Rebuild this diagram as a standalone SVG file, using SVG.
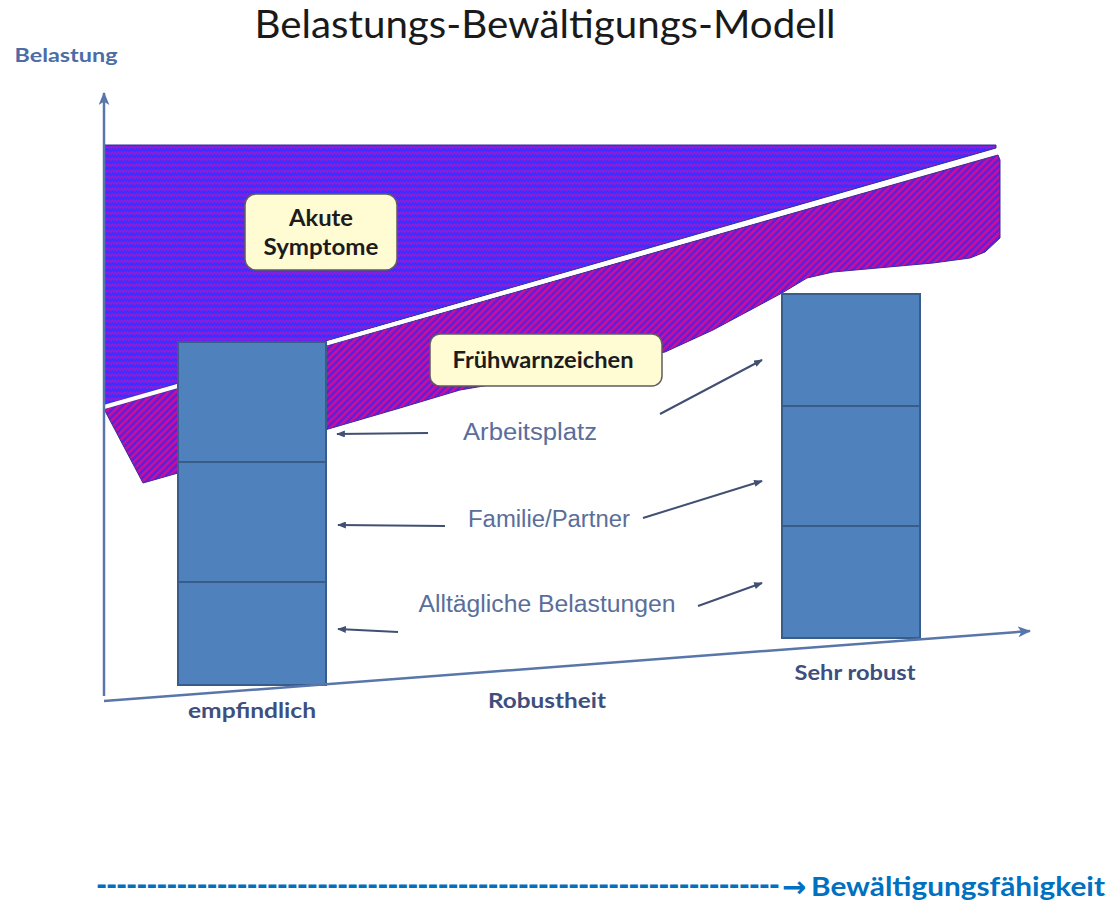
<svg xmlns="http://www.w3.org/2000/svg" width="1111" height="902" viewBox="0 0 1111 902">
  <defs>
    <!-- zigzag fill for the upper band -->
    <pattern id="zigzag" width="6" height="6" patternUnits="userSpaceOnUse">
      <rect width="6" height="6" fill="#3A30FF"/>
      <polyline points="0,4.5 1.5,2 3,4.5 4.5,2 6,4.5" fill="none" stroke="#A416CC" stroke-width="1.3"/>
    </pattern>
    <!-- diagonal stripes for the lower band -->
    <pattern id="stripes" width="5" height="5" patternUnits="userSpaceOnUse" patternTransform="rotate(45)">
      <rect width="5" height="5" fill="#5A1FDC"/>
      <rect width="2.6" height="5" fill="#CC0E98"/>
    </pattern>
    <marker id="tip" viewBox="0 0 10 8" refX="9" refY="4" markerWidth="9" markerHeight="7" markerUnits="userSpaceOnUse" orient="auto">
      <path d="M0,0 L10,4 L0,8 z" fill="#414F72"/>
    </marker>
    <marker id="axisTip" viewBox="0 0 12 10" refX="11" refY="5" markerWidth="13" markerHeight="11" markerUnits="userSpaceOnUse" orient="auto">
      <path d="M0,0 L12,5 L0,10 L3,5 z" fill="#5876AA"/>
    </marker>
    <style>
      .stack { fill: #4F81BD; stroke: #385D8A; stroke-width: 2; }
      .note { fill: #FFFBD2; stroke: #5E5E5E; stroke-width: 1.5; }
      .noteText { font-family: Lato, "Liberation Sans", sans-serif; font-weight: bold; font-size: 23px; fill: #1C1C1C; text-anchor: middle; }
      .mid { font-family: "Liberation Sans", Arial, sans-serif; font-size: 23px; fill: #5A6E9A; text-anchor: middle; }
      .axisLbl { font-family: Lato, "Liberation Sans", sans-serif; font-weight: bold; font-size: 20px; fill: #3E4F7E; text-anchor: middle; }
      .conn { stroke: #414F72; stroke-width: 2; fill: none; marker-end: url(#tip); }
      .axis { stroke: #5876AA; stroke-width: 2.5; fill: none; }
    </style>
  </defs>

  <rect width="1111" height="902" fill="#FFFFFF"/>

  <!-- title -->
  <text x="545" y="38" font-family="Lato, 'Liberation Sans', sans-serif" font-size="38" fill="#1A1A1A" text-anchor="middle" textLength="581" lengthAdjust="spacingAndGlyphs">Belastungs-Bewältigungs-Modell</text>

  <!-- bands -->
  <g id="band-acute">
    <polygon points="104,145 996,145 996,148 104,405" fill="url(#zigzag)" stroke="#2C2E9A" stroke-width="1"/>
  </g>
  <g id="band-warning">
    <polygon points="104,409 998,155 1000,160 1000,238 985,252 970,258 933,263 833,272 807,278 782,293 713,330 665,352 560,373 460,390 400,408 178,473 143,483" fill="url(#stripes)" stroke="#3A2A9A" stroke-width="1"/>
  </g>
  <line x1="104" y1="407" x2="1000" y2="151" stroke="#FFFFFF" stroke-width="4"/>

  <!-- stacks -->
  <g id="stack-sensitive">
    <rect class="stack" x="178" y="342" width="148" height="120"/>
    <rect class="stack" x="178" y="462" width="148" height="120"/>
    <rect class="stack" x="178" y="582" width="148" height="103"/>
  </g>
  <g id="stack-robust">
    <rect class="stack" x="782" y="294" width="138" height="112"/>
    <rect class="stack" x="782" y="406" width="138" height="120"/>
    <rect class="stack" x="782" y="526" width="138" height="112"/>
  </g>

  <!-- notes -->
  <g id="note-acute">
    <rect class="note" x="245" y="194" width="152" height="76" rx="11"/>
    <text class="noteText" x="321" y="226" textLength="64" lengthAdjust="spacingAndGlyphs">Akute</text>
    <text class="noteText" x="321" y="255" textLength="115" lengthAdjust="spacingAndGlyphs">Symptome</text>
  </g>
  <g id="note-warning">
    <rect class="note" x="430" y="334" width="232" height="52" rx="10"/>
    <text class="noteText" x="543" y="368" font-size="21" textLength="181" lengthAdjust="spacingAndGlyphs">Frühwarnzeichen</text>
  </g>

  <!-- axes -->
  <g id="axes">
    <line class="axis" x1="104" y1="696" x2="104" y2="93" marker-end="url(#axisTip)"/>
    <line class="axis" x1="104" y1="701" x2="1030" y2="631" marker-end="url(#axisTip)"/>
  </g>

  <!-- connectors -->
  <g id="connectors">
    <line class="conn" x1="428" y1="433" x2="337" y2="434"/>
    <line class="conn" x1="660" y1="414" x2="762" y2="360"/>
    <line class="conn" x1="445" y1="526" x2="338" y2="525"/>
    <line class="conn" x1="643" y1="518" x2="762" y2="481"/>
    <line class="conn" x1="398" y1="632" x2="338" y2="629"/>
    <line class="conn" x1="698" y1="606" x2="762" y2="583"/>
  </g>

  <!-- factor labels -->
  <g id="labels">
    <text class="mid" x="530" y="440" textLength="134" lengthAdjust="spacingAndGlyphs">Arbeitsplatz</text>
    <text class="mid" x="549" y="527" textLength="162" lengthAdjust="spacingAndGlyphs">Familie/Partner</text>
    <text class="mid" x="547" y="612" textLength="257" lengthAdjust="spacingAndGlyphs">Alltägliche Belastungen</text>
  </g>

  <!-- axis labels -->
  <g id="axis-labels">
    <text x="66" y="62" font-family="Lato, 'Liberation Sans', sans-serif" font-weight="bold" font-size="19" fill="#4C6CA6" text-anchor="middle" textLength="103" lengthAdjust="spacingAndGlyphs">Belastung</text>
    <text class="axisLbl" x="547" y="708" textLength="118" lengthAdjust="spacingAndGlyphs">Robustheit</text>
    <text class="axisLbl" x="252" y="718" textLength="128" lengthAdjust="spacingAndGlyphs">empfindlich</text>
    <text class="axisLbl" x="855" y="680" textLength="121" lengthAdjust="spacingAndGlyphs">Sehr robust</text>
  </g>

  <!-- footer -->
  <g id="footer">
    <text x="96" y="896" font-family="Lato, 'Liberation Sans', sans-serif" font-weight="900" font-size="30" fill="#0070C0" textLength="684" lengthAdjust="spacing">--------------------------------------------------------------------</text>
    <text x="782" y="897" font-family="'DejaVu Sans', sans-serif" font-weight="bold" font-size="29" fill="#0070C0">→</text>
    <text x="811" y="896" font-family="Lato, 'Liberation Sans', sans-serif" font-weight="bold" font-size="26" fill="#0070C0" textLength="294" lengthAdjust="spacingAndGlyphs">Bewältigungsfähigkeit</text>
  </g>
</svg>
